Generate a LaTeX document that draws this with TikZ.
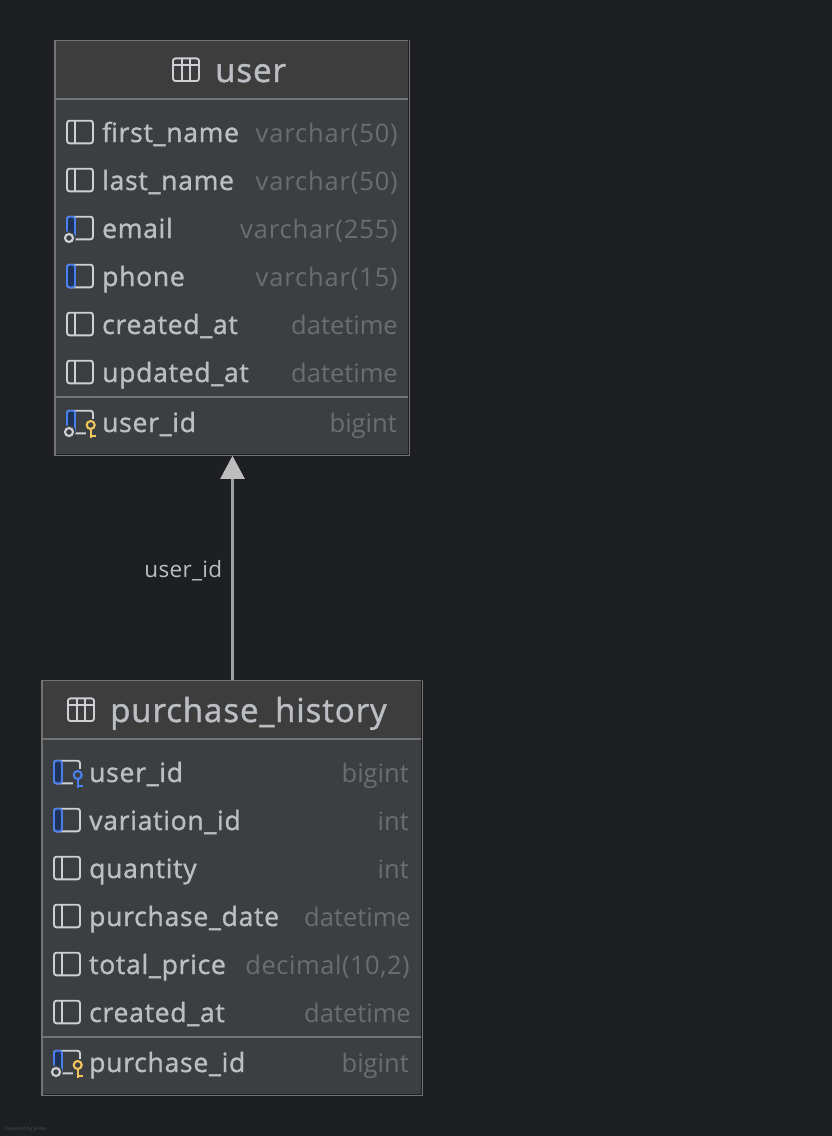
\documentclass[tikz,border=0pt]{standalone}
\usepackage{fontspec}
\setmainfont{Open Sans}
\newfontfamily\namefont[LetterSpace=2.8,FakeBold=1.3]{Open Sans}
\newfontfamily\numfont[LetterSpace=3.4]{Open Sans}
\newfontfamily\decfont[LetterSpace=2.1]{Open Sans}
\newfontfamily\linkfont[LetterSpace=1.4]{Open Sans}
\usepackage{tikz}
\usetikzlibrary{arrows.meta,positioning}
\definecolor{bgdark}{HTML}{1E1F22}
\definecolor{bodygrey}{HTML}{3C3F41}
\definecolor{headgrey}{HTML}{3D3D3D}
\definecolor{rulegrey}{HTML}{737373}
\definecolor{namegrey}{HTML}{BBBEC2}
\definecolor{typegrey}{HTML}{6B6E71}
\definecolor{linkgrey}{HTML}{9FA0A2}
\definecolor{tipgrey}{HTML}{BDBDBD}
\definecolor{iconwhite}{HTML}{CED0D6}
\definecolor{iconblue}{HTML}{4A80EC}
\definecolor{iconfill}{HTML}{1F3257}
\definecolor{keyyellow}{HTML}{F2C55C}
\tikzset{
  tablebox/.style={draw=rulegrey,line width=1.6pt,fill=bodygrey,inner sep=0pt,minimum width=#1},
  headbox/.style={fill=headgrey,inner sep=0pt,minimum width=#1,minimum height=57pt},
  edgeshade/.style={bgdark,line width=1pt},
  tabletitle/.style={anchor=base west,inner sep=0pt,text=namegrey,font=\namefont\fontsize{33}{33}\selectfont},
  colname/.style={anchor=base west,inner sep=0pt,text=namegrey,font=\namefont\fontsize{26.5}{27}\selectfont},
  coltype/.style={anchor=base east,inner sep=0pt,text=typegrey,font=\fontsize{25.5}{27}\selectfont},
  coltypenum/.style={coltype,font=\numfont\fontsize{25.5}{27}\selectfont},
  pics/tableicon/.style={code={
    \draw [iconwhite,line width=1.9pt,rounded corners=2.5pt] (-13,-11.3) rectangle (13,11.3);
    \draw [iconwhite,line width=1.9pt] (-13,-4.5) -- (13,-4.5);
    \draw [iconwhite,line width=1.9pt] (-4.4,-11.3) -- (-4.4,11.3);
    \draw [iconwhite,line width=1.9pt] (4.4,-11.3) -- (4.4,11.3);
  }},
  pics/colicon/.style={code={
    \draw [iconwhite,line width=1.9pt,rounded corners=2.5pt] (-13,-11.3) rectangle (13,11.3);
    \draw [iconwhite,line width=1.9pt] (-5,-11.3) -- (-5,11.3);
  }},
  pics/fkicon/.style={code={
    \draw [iconwhite,line width=1.9pt,rounded corners=2.5pt] (-13,-11.3) rectangle (13,11.3);
    \draw [iconblue,fill=iconfill,line width=1.9pt,rounded corners=2.5pt] (-5,-11.3) -- (-13,-11.3) -- (-13,11.3) -- (-5,11.3) -- cycle;
  }},
  pics/nullmark/.style={code={
    \fill [bodygrey] (-11,10) circle (6.8);
    \draw [iconwhite,line width=2.1pt] (-11,10) circle (4);
  }},
  pics/keymark/.style={code={
    \fill [bodygrey] (5.5,-3) rectangle (17,17);
    \draw [#1,line width=2.1pt] (10.7,3) circle (4);
    \draw [#1,line width=2.1pt] (10.7,7) -- (10.7,16);
    \draw [#1,line width=2.1pt] (10.7,14) -- (15.5,14);
  }},
}
\begin{document}
\begin{tikzpicture}[x=1pt,y=-1pt]
\useasboundingbox [fill=bgdark] (0,0) rectangle (832,1136);
% user table
\node [tablebox=354pt,minimum height=414pt] (user) at (232,248) {};
\node [headbox=352pt,below=0.8pt of user.north] (userhead) {};
\draw [rulegrey,line width=2pt] (user.west |- 0,99) -- (user.east |- 0,99);
\draw [rulegrey,line width=2pt] (user.west |- 0,397) -- (user.east |- 0,397);
\draw [edgeshade] ([shift={(-1.3,-1.3)}]user.north east) -- ([shift={(-1.3,-1.3)}]user.south east) -- ([shift={(1.3,-1.3)}]user.south west);
\pic at (186,69.7) {tableicon};
\node [tabletitle] (usertitle) at (215,82) {user};
\pic at (80,132) {colicon};
\node [colname] (userfirst) at (102,142) {first\_name};
\node [coltypenum] (userfirsttype) at (398,142) {varchar(50)};
\pic at (80,180) {colicon};
\node [colname] (userlast) at (102,190) {last\_name};
\node [coltypenum] (userlasttype) at (398,190) {varchar(50)};
\pic at (80,228) {fkicon};
\pic at (80,228) {nullmark};
\node [colname] (useremail) at (102,238) {email};
\node [coltypenum] (useremailtype) at (398,238) {varchar(255)};
\pic at (80,276) {fkicon};
\node [colname] (userphone) at (102,286) {phone};
\node [coltypenum] (userphonetype) at (398,286) {varchar(15)};
\pic at (80,324) {colicon};
\node [colname] (usercreated) at (102,334) {created\_at};
\node [coltype] (usercreatedtype) at (398,334) {datetime};
\pic at (80,372) {colicon};
\node [colname] (userupdated) at (102,382) {updated\_at};
\node [coltype] (userupdatedtype) at (398,382) {datetime};
\pic at (80,422) {fkicon};
\pic at (80,422) {nullmark};
\pic at (80,422) {keymark=keyyellow};
\node [colname] (userid) at (102,432) {user\_id};
\node [coltype] (useridtype) at (397,432) {bigint};
% purchase_history table
\node [tablebox=380pt,minimum height=414pt] (purchase) at (232,888) {};
\node [headbox=378pt,below=0.8pt of purchase.north] (purchasehead) {};
\draw [rulegrey,line width=2pt] (purchase.west |- 0,739) -- (purchase.east |- 0,739);
\draw [rulegrey,line width=2pt] (purchase.west |- 0,1037) -- (purchase.east |- 0,1037);
\draw [edgeshade] ([shift={(-1.3,-1.3)}]purchase.north east) -- ([shift={(-1.3,-1.3)}]purchase.south east) -- ([shift={(1.3,-1.3)}]purchase.south west);
\pic at (81,709.7) {tableicon};
\node [tabletitle] (purchasetitle) at (110,722) {purchase\_history};
\pic at (67,772) {fkicon};
\pic at (67,772) {keymark=iconblue};
\node [colname] (phuser) at (89,782) {user\_id};
\node [coltype] (phusertype) at (409,782) {bigint};
\pic at (67,820) {fkicon};
\node [colname] (phvariation) at (89,830) {variation\_id};
\node [coltype] (phvariationtype) at (409,830) {int};
\pic at (67,868) {colicon};
\node [colname] (phquantity) at (89,878) {quantity};
\node [coltype] (phquantitytype) at (409,878) {int};
\pic at (67,916) {colicon};
\node [colname] (phdate) at (89,926) {purchase\_date};
\node [coltype] (phdatetype) at (411,926) {datetime};
\pic at (67,964) {colicon};
\node [colname] (phprice) at (89,974) {total\_price};
\node [coltype,font=\decfont\fontsize{25.5}{27}\selectfont] (phpricetype) at (410,974) {decimal(10,2)};
\pic at (67,1012) {colicon};
\node [colname] (phcreated) at (89,1022) {created\_at};
\node [coltype] (phcreatedtype) at (411,1022) {datetime};
\pic at (67,1062) {fkicon};
\pic at (67,1062) {nullmark};
\pic at (67,1062) {keymark=keyyellow};
\node [colname] (phid) at (89,1072) {purchase\_id};
\node [coltype] (phidtype) at (409,1072) {bigint};
% link
\draw [-{Triangle[width=24pt,length=23pt,color=tipgrey]},linkgrey,line width=2.4pt] ([xshift=0.5pt]purchase.north) -- ([xshift=0.5pt]user.south);
\node [anchor=base east,inner sep=0pt,text=namegrey,font=\linkfont\fontsize{22.5}{23}\selectfont] (linklabel) at (222.5,577.5) {user\_id};
\node [anchor=base west,inner sep=0pt,text=typegrey!60!bgdark,font=\fontsize{5}{5}\selectfont] (poweredby) at (5,1130) {Powered by yFiles};
\end{tikzpicture}
\end{document}
